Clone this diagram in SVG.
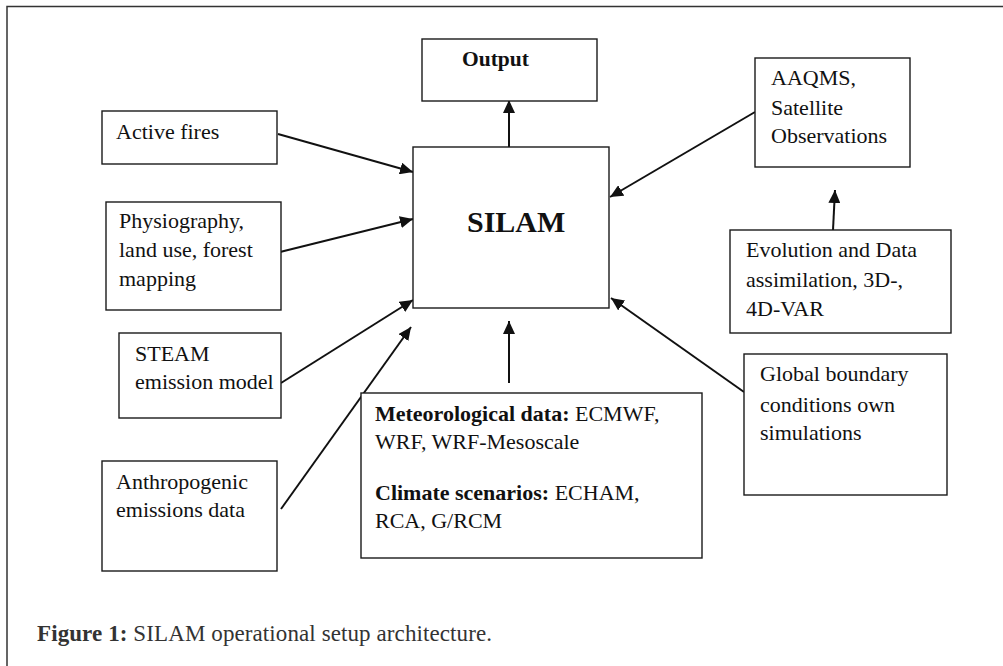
<svg xmlns="http://www.w3.org/2000/svg" width="1003" height="666" viewBox="0 0 1003 666">
<style>
.box{fill:#fff;stroke:#1a1a1a;stroke-width:1.4}
.t{font-family:"Liberation Serif","Times New Roman",serif;font-size:22px;fill:#111}
.b{font-weight:bold}
.c{stroke:#111;stroke-width:2;fill:none;marker-end:url(#ah)}
.cap{font-family:"Liberation Serif","Times New Roman",serif;font-size:23px;fill:#333}
</style>
<defs>
<marker id="ah" markerUnits="userSpaceOnUse" markerWidth="14" markerHeight="12" refX="13" refY="6" orient="auto">
<path d="M0,0 L13,6 L0,12 Z" fill="#111"/>
</marker>
</defs>
<rect width="1003" height="666" fill="#fff"/>
<path d="M7,666 L7,6.5 L1003,6.5" fill="none" stroke="#333" stroke-width="1.5"/>
<g id="connectors">
<line class="c" x1="278" y1="134" x2="413" y2="172"/>
<line class="c" x1="280" y1="252" x2="413" y2="219"/>
<line class="c" x1="281" y1="383" x2="413" y2="300"/>
<line class="c" x1="281" y1="509" x2="411" y2="327"/>
<line class="c" x1="509" y1="383" x2="509" y2="321"/>
<line class="c" x1="509" y1="147" x2="509" y2="100"/>
<line class="c" x1="755" y1="112" x2="610" y2="197"/>
<line class="c" x1="833" y1="230" x2="835" y2="190"/>
<line class="c" x1="744" y1="392" x2="611" y2="298"/>
</g>
<g id="output">
<rect class="box" x="422" y="39" width="175" height="62"/>
<text class="t b" x="462" y="66" style="font-size:21.5px">Output</text>
</g>
<g id="silam">
<rect class="box" x="413" y="147" width="196" height="161"/>
<text class="t b" x="467" y="232" style="font-size:30px">SILAM</text>
</g>
<g id="active-fires">
<rect class="box" x="102" y="111" width="175" height="53"/>
<text class="t" x="116" y="139">Active fires</text>
</g>
<g id="physiography">
<rect class="box" x="106" y="202" width="175" height="108"/>
<text class="t" x="119" y="228">Physiography,</text>
<text class="t" x="119" y="257">land use, forest</text>
<text class="t" x="119" y="286">mapping</text>
</g>
<g id="steam">
<rect class="box" x="119" y="333" width="162" height="85"/>
<text class="t" x="135" y="361">STEAM</text>
<text class="t" x="135" y="389">emission model</text>
</g>
<g id="anthropogenic">
<rect class="box" x="102" y="461" width="175" height="110"/>
<text class="t" x="116" y="489">Anthropogenic</text>
<text class="t" x="116" y="517">emissions data</text>
</g>
<g id="meteorological">
<rect class="box" x="361" y="393" width="341" height="165"/>
<text class="t" x="375" y="421"><tspan class="b">Meteorological data:</tspan> ECMWF,</text>
<text class="t" x="375" y="449">WRF, WRF-Mesoscale</text>
<text class="t" x="375" y="500"><tspan class="b">Climate scenarios:</tspan> ECHAM,</text>
<text class="t" x="375" y="528">RCA, G/RCM</text>
</g>
<g id="aaqms">
<rect class="box" x="755" y="58" width="155" height="109"/>
<text class="t" x="771" y="85">AAQMS,</text>
<text class="t" x="771" y="115">Satellite</text>
<text class="t" x="771" y="143">Observations</text>
</g>
<g id="evolution">
<rect class="box" x="730" y="230" width="221" height="103"/>
<text class="t" x="746" y="257">Evolution and Data</text>
<text class="t" x="746" y="287">assimilation, 3D-,</text>
<text class="t" x="746" y="316">4D-VAR</text>
</g>
<g id="global-boundary">
<rect class="box" x="744" y="354" width="203" height="141"/>
<text class="t" x="760" y="381">Global boundary</text>
<text class="t" x="760" y="412">conditions own</text>
<text class="t" x="760" y="440">simulations</text>
</g>
<text class="cap" x="37" y="641" textLength="455" lengthAdjust="spacing"><tspan font-weight="bold">Figure 1:</tspan> SILAM operational setup architecture.</text>
</svg>
